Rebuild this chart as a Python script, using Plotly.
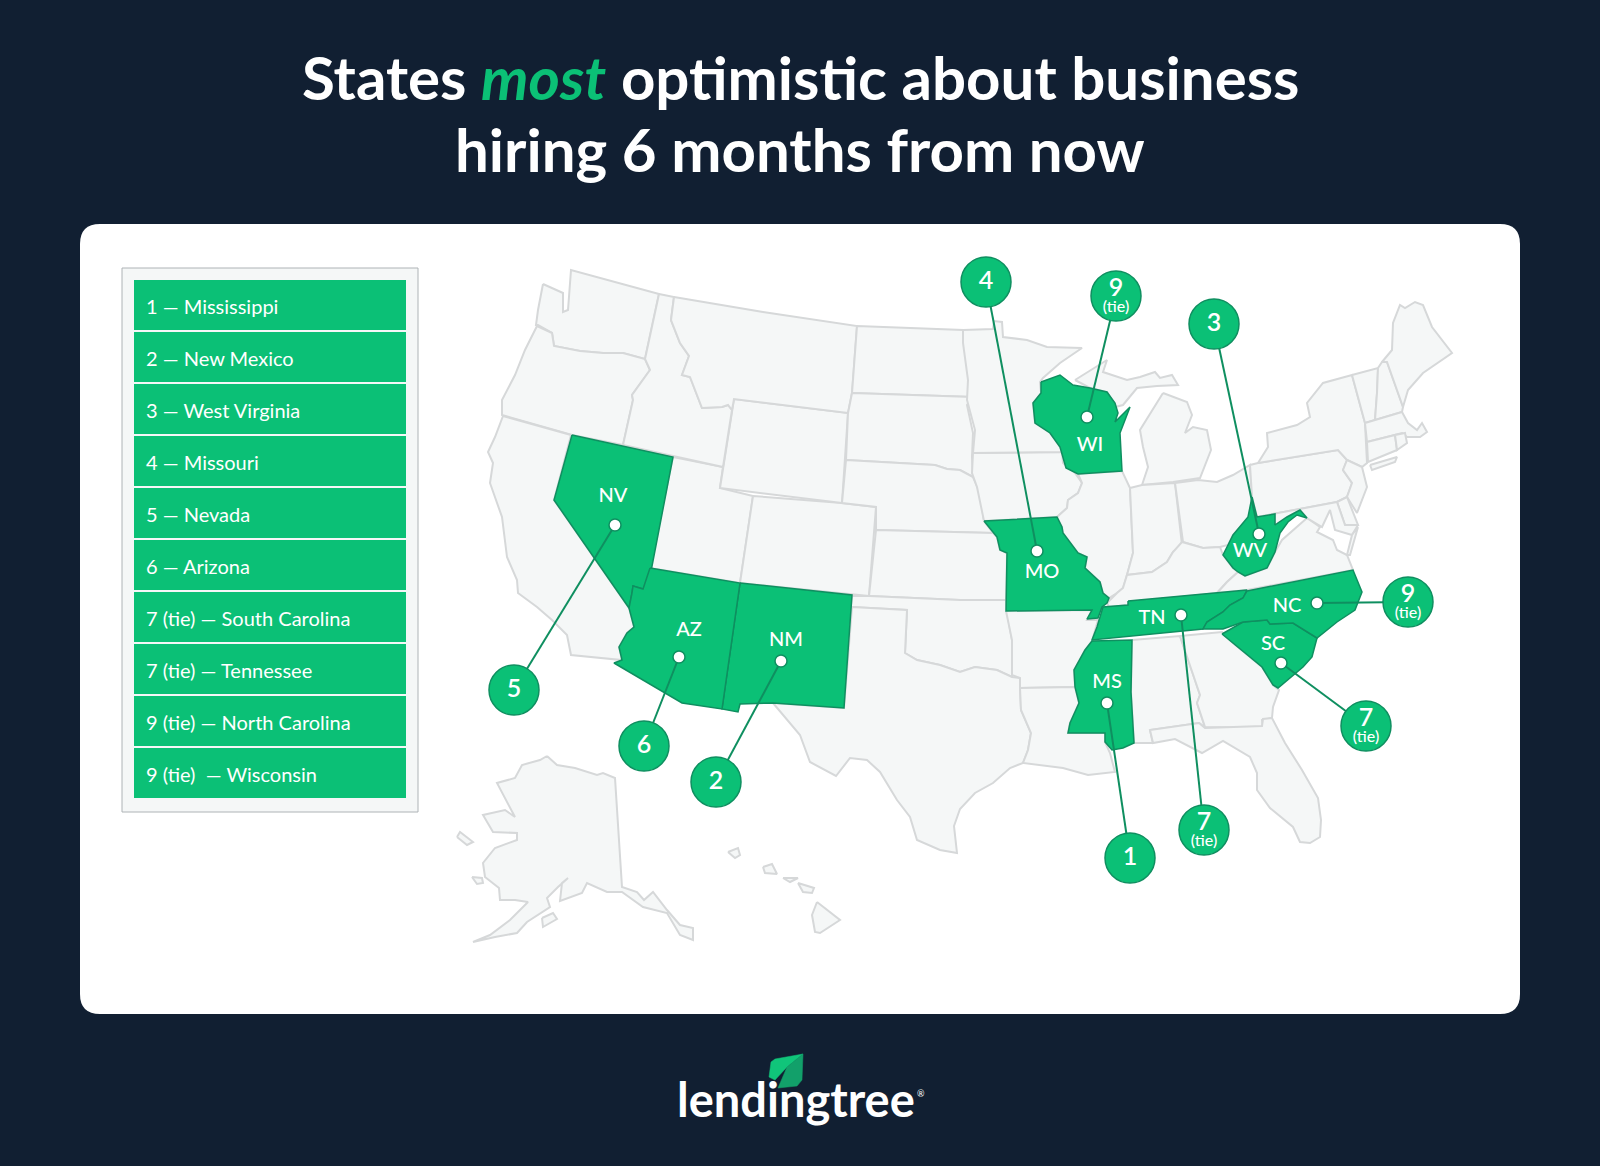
import plotly.graph_objects as go

# colours
navy = '#111f32'
green = '#0bc076'
dark_green = '#0f8f60'
grey_fill = '#f5f7f7'
grey_line = '#d6d8d9'

# legend
legend_labels = ['1 — Mississippi', '2 — New Mexico', '3 — West Virginia', '4 — Missouri', '5 — Nevada',
                 '6 — Arizona', '7 (tie) — South Carolina', '7 (tie) — Tennessee', '9 (tie) — North Carolina',
                 '9 (tie)\u00a0 — Wisconsin']

# callouts: state code, rank, tie, label pos, dot pos, circle pos
codes = ['MS', 'NM', 'WV', 'MO', 'NV', 'AZ', 'SC', 'TN', 'NC', 'WI']
ranks = ['1', '2', '3', '4', '5', '6', '7', '7', '9', '9']
ties = [False, False, False, False, False, False, True, True, True, True]
label_x = [1107, 786, 1250, 1042, 613, 689, 1273, 1152, 1287, 1090]
label_y = [683, 641, 552, 573, 497, 631, 645, 619, 607, 446]
dot_x = [1107, 781, 1259, 1037, 615, 679, 1281, 1181, 1317, 1087]
dot_y = [703, 661, 534, 551, 525, 657, 663, 615, 603, 417]
circle_x = [1130, 716, 1214, 986, 514, 644, 1366, 1204, 1408, 1116]
circle_y = [858, 782, 324, 282, 690, 746, 726, 830, 602, 296]

# state outlines (image pixels)
WA = [(543,284),(563,293),(563,312),(568,310),(571,270),(659,294),(645,359),(623,353),(603,353),(580,351),(554,346),(552,333),(538,325),(536,325),(538,310)]
OR = [(537,326),(552,333),(554,346),(580,351),(603,353),(623,353),(645,359),(650,370),(632,395),(633,400),(623,445),(572,435),(502,415),(502,400),(515,375),(525,350)]
CA = [(503,416),(571,435),(554,500),(629,608),(634,627),(627,633),(619,647),(622,660),(571,655),(567,635),(552,620),(537,607),(518,593),(517,580),(507,557),(502,517),(490,483),(493,463),(488,452),(495,437)]
NV = [(572,435),(673,457),(648,587),(643,589),(633,586),(632,593),(629,608),(554,500)]
AZ = [(650,568),(740,583),(722,709),(682,703),(614,663),(622,660),(619,647),(627,633),(634,627),(629,608),(632,593),(633,586),(643,589)]
NM = [(740,583),(852,595),(844,708),(773,703),(740,704),(738,712),(722,709)]
UT = [(673,457),(723,467),(720,488),(753,496),(740,583),(650,568)]
CO = [(753,496),(842,503),(876,507),(869,596),(740,583)]
WY = [(734,399),(848,413),(842,503),(720,488)]
ID = [(659,294),(674,297),(671,320),(680,343),(689,356),(682,375),(690,377),(702,408),(722,407),(728,405),(732,410),(723,467),(623,445),(633,400),(632,395),(650,370),(645,359)]
MT = [(674,297),(763,312),(857,326),(852,393),(848,413),(734,399),(732,410),(728,405),(722,407),(702,408),(690,377),(682,375),(689,356),(680,343),(671,320)]
ND = [(857,326),(963,330),(967,357),(973,397),(852,393)]
SD = [(852,393),(973,397),(967,405),(973,433),(972,457),(973,477),(960,470),(947,469),(935,465),(846,460),(848,413)]
NE = [(846,460),(935,465),(947,469),(960,470),(973,477),(980,493),(984,521),(993,533),(876,530),(876,507),(842,503)]
KS = [(876,530),(993,533),(997,537),(1000,550),(1007,553),(1006,600),(960,600),(869,596)]
OK = [(852,596),(869,596),(960,600),(1006,600),(1007,612),(1012,640),(1012,677),(997,670),(975,667),(960,672),(940,665),(917,660),(905,653),(907,610),(851,607)]
TX = [(852,607),(907,610),(905,653),(917,660),(940,665),(960,672),(975,667),(997,670),(1012,677),(1020,678),(1020,688),(1021,710),(1031,733),(1028,750),(1023,763),(1010,768),(993,783),(975,793),(960,809),(954,826),(957,853),(940,850),(917,840),(910,817),(897,800),(880,772),(867,760),(850,758),(836,776),(810,762),(800,735),(773,703),(844,708)]
MO = [(984,521),(1057,517),(1062,527),(1063,533),(1078,553),(1087,557),(1085,568),(1100,582),(1103,593),(1109,598),(1107,603),(1102,607),(1098,618),(1087,619),(1092,610),(1006,611),(1007,553),(1000,550),(997,537)]
IA = [(973,453),(1062,452),(1063,463),(1075,473),(1082,483),(1078,493),(1068,500),(1067,508),(1057,517),(984,521),(977,487),(972,473)]
MN = [(963,330),(993,329),(994,321),(1002,322),(1003,337),(1027,340),(1047,347),(1082,348),(1060,363),(1043,378),(1040,382),(1041,393),(1033,403),(1035,423),(1050,433),(1060,447),(1062,452),(973,453),(975,430),(967,400),(968,380),(963,343)]
WI = [(1041,382),(1060,375),(1073,385),(1090,388),(1107,392),(1115,403),(1118,413),(1115,422),(1130,407),(1120,433),(1122,471),(1078,474),(1066,468),(1062,452),(1060,447),(1050,433),(1035,423),(1033,403),(1041,393)]
MI_UP = [(1075,380),(1107,360),(1103,372),(1127,380),(1140,377),(1155,372),(1160,378),(1172,375),(1178,385),(1157,386),(1137,388),(1123,405),(1115,407),(1107,392),(1090,388)]
MI_LP = [(1163,393),(1187,402),(1192,415),(1185,433),(1193,427),(1207,430),(1211,450),(1200,478),(1173,482),(1142,485),(1148,467),(1143,447),(1140,430),(1152,410)]
IL = [(1078,474),(1122,471),(1130,488),(1133,553),(1127,575),(1123,588),(1117,593),(1109,598),(1103,593),(1100,582),(1085,568),(1087,557),(1078,553),(1063,533),(1062,527),(1057,517),(1067,508),(1068,500),(1078,493),(1082,483)]
IN = [(1130,488),(1142,485),(1175,483),(1182,545),(1173,552),(1167,562),(1152,572),(1127,575),(1133,553)]
OH = [(1175,483),(1198,480),(1217,482),(1233,475),(1250,465),(1252,497),(1250,517),(1233,535),(1228,545),(1220,547),(1203,548),(1183,542)]
KY = [(1117,593),(1123,588),(1127,575),(1152,572),(1167,562),(1173,552),(1182,542),(1203,548),(1220,547),(1223,555),(1233,568),(1238,572),(1227,582),(1217,593),(1130,602),(1128,605),(1109,607),(1107,603)]
TN = [(1128,601),(1247,590),(1243,598),(1230,605),(1223,612),(1207,622),(1203,629),(1092,640),(1097,627),(1103,607),(1128,605)]
NC = [(1247,591),(1353,570),(1362,592),(1355,610),(1337,622),(1317,638),(1293,623),(1270,624),(1267,620),(1243,622),(1223,629),(1203,629),(1207,622),(1223,612),(1230,605),(1243,598)]
SC = [(1222,634),(1243,622),(1267,620),(1270,624),(1293,623),(1317,638),(1312,657),(1303,667),(1278,688),(1273,685),(1262,667),(1250,657),(1233,643)]
VA = [(1217,593),(1227,582),(1238,572),(1245,576),(1267,568),(1275,552),(1282,540),(1293,530),(1307,518),(1320,527),(1317,532),(1333,540),(1337,550),(1347,555),(1353,570),(1247,590)]
WV = [(1252,497),(1257,517),(1275,514),(1275,525),(1287,517),(1300,510),(1307,518),(1297,515),(1288,522),(1280,533),(1275,552),(1267,568),(1245,576),(1238,572),(1233,568),(1223,555),(1228,545),(1233,535),(1248,517)]
PA = [(1250,465),(1258,463),(1338,450),(1347,460),(1343,470),(1352,483),(1347,497),(1337,502),(1257,517),(1252,497)]
NY = [(1258,463),(1268,447),(1267,433),(1297,425),(1310,417),(1307,403),(1323,383),(1352,375),(1365,423),(1367,463),(1362,467),(1347,460),(1338,450)]
LONG_ISLAND = [(1370,465),(1397,457),(1395,462),(1372,470)]
NJ = [(1347,460),(1362,467),(1367,487),(1357,513),(1347,497),(1352,483),(1343,470)]
DE = [(1337,502),(1347,497),(1358,525),(1345,525)]
MD = [(1257,517),(1337,502),(1345,525),(1358,525),(1352,535),(1335,530),(1330,510),(1322,527),(1307,518),(1300,510),(1287,517),(1275,525),(1275,514)]
VA_SHORE = [(1358,527),(1350,555),(1347,555),(1352,535)]
VT = [(1352,375),(1378,368),(1377,393),(1375,420),(1365,423)]
NH = [(1378,368),(1382,362),(1387,362),(1403,407),(1402,412),(1375,420),(1377,393)]
ME = [(1382,362),(1392,350),(1393,323),(1400,305),(1405,308),(1415,302),(1423,305),(1432,327),(1452,353),(1423,373),(1408,390),(1403,407),(1387,362)]
MA = [(1365,423),(1402,412),(1408,423),(1417,430),(1422,423),(1427,432),(1420,437),(1407,437),(1402,433),(1367,442)]
CT = [(1367,442),(1395,435),(1397,450),(1368,462)]
RI = [(1395,435),(1405,433),(1407,443),(1397,450)]
MS = [(1092,641),(1132,640),(1131,692),(1134,743),(1123,748),(1112,750),(1105,742),(1105,733),(1068,733),(1070,723),(1079,703),(1075,687),(1074,670),(1085,650)]
AL = [(1132,640),(1180,636),(1200,695),(1197,703),(1205,727),(1199,723),(1150,730),(1153,743),(1134,743),(1131,692)]
GA = [(1180,636),(1222,632),(1233,643),(1250,657),(1262,667),(1273,685),(1279,690),(1273,707),(1272,718),(1262,720),(1263,728),(1205,727),(1197,703),(1200,695)]
FL = [(1150,730),(1199,723),(1205,728),(1262,726),(1263,719),(1272,718),(1285,743),(1302,770),(1318,798),(1321,820),(1320,837),(1310,843),(1300,842),(1293,827),(1270,808),(1257,790),(1257,773),(1250,757),(1223,741),(1202,753),(1175,739),(1153,743)]
AR = [(1006,611),(1092,610),(1087,620),(1098,620),(1092,641),(1085,650),(1074,670),(1075,687),(1020,688),(1020,678),(1012,675),(1012,640)]
LA = [(1020,688),(1075,687),(1079,703),(1070,723),(1068,733),(1105,733),(1105,742),(1110,753),(1115,772),(1088,775),(1063,768),(1023,763),(1028,750),(1031,733),(1021,710)]
AK = [(547,756),(557,765),(575,768),(597,775),(603,773),(615,778),(622,887),(637,892),(644,900),(653,892),(667,910),(680,925),(693,928),(693,940),(680,935),(667,913),(643,907),(622,892),(607,892),(587,883),(582,893),(560,901),(562,883),(568,878),(558,887),(547,898),(550,907),(527,922),(517,933),(495,937),(473,942),(490,935),(510,920),(528,902),(515,900),(500,900),(499,888),(485,877),(483,863),(495,848),(517,840),(517,833),(493,832),(483,815),(505,810),(515,817),(497,783),(515,778),(522,765),(540,760)]
AK_ST_LAWRENCE = [(457,837),(460,832),(473,842),(467,845)]
AK_NUNIVAK = [(472,877),(482,878),(483,883),(477,884)]
AK_KODIAK = [(542,918),(553,913),(557,919),(543,927)]
HI_KAUAI = [(728,852),(738,848),(740,855),(735,858)]
HI_OAHU = [(763,867),(772,864),(777,874),(765,873)]
HI_MOLOKAI = [(783,878),(798,878),(790,882)]
HI_MAUI = [(798,883),(805,885),(814,888),(812,893),(803,892)]
HI_BIG = [(817,902),(840,920),(820,933),(815,932),(812,915)]

grey_states = [WA, OR, CA, UT, CO, WY, ID, MT, ND, SD, NE, KS, OK, TX, IA, MN, MI_UP, MI_LP, IL, IN, OH, KY, VA,
               PA, NY, LONG_ISLAND, NJ, DE, MD, VA_SHORE, VT, NH, ME, MA, CT, RI, AL, GA, FL, AR, LA, AK,
               AK_ST_LAWRENCE, AK_NUNIVAK, AK_KODIAK, HI_KAUAI, HI_OAHU, HI_MOLOKAI, HI_MAUI, HI_BIG]
green_states = [MS, NM, WV, MO, NV, AZ, SC, TN, NC, WI]

# logo leaf
LEAF_TOP = [(769,1077),(771,1062),(775,1059),(803,1054),(787,1067),(775,1080)]
LEAF_BOTTOM = [(803,1054),(802,1080),(797,1086),(778,1088),(787,1067)]


def poly(points, fill, line, width):
    xs = [p[0] for p in points] + [points[0][0]]
    ys = [p[1] for p in points] + [points[0][1]]
    return go.Scatter(x=xs, y=ys, mode='lines', fill='toself', fillcolor=fill, hoverinfo='skip',
                      line=dict(color=line, width=width), showlegend=False)


fig = go.Figure()

for st in grey_states:
    fig.add_trace(poly(st, grey_fill, grey_line, 2))
for st in green_states:
    fig.add_trace(poly(st, green, dark_green, 1.5))

# leader lines
for i in range(len(codes)):
    fig.add_trace(go.Scatter(x=[dot_x[i], circle_x[i]], y=[dot_y[i], circle_y[i]], mode='lines',
                             line=dict(color=dark_green, width=2), hoverinfo='skip', showlegend=False))

fig.add_trace(go.Scatter(x=dot_x, y=dot_y, mode='markers', hoverinfo='skip', showlegend=False,
                         marker=dict(size=12, color='white', line=dict(color=dark_green, width=1.5))))
fig.add_trace(go.Scatter(x=circle_x, y=circle_y, mode='markers', hoverinfo='skip', showlegend=False,
                         marker=dict(size=50, color=green, line=dict(color=dark_green, width=1.5))))

# state codes
fig.add_trace(go.Scatter(x=label_x, y=label_y, mode='text', text=codes, hoverinfo='skip', showlegend=False,
                         textfont=dict(family='Lato', size=20, color='white', weight=500)))

# rank numbers in the circles, ties get a smaller (tie) under the number
rank_y = [y - 6 if t else y + 1 for y, t in zip(circle_y, ties)]
fig.add_trace(go.Scatter(x=circle_x, y=rank_y, mode='text', text=ranks, hoverinfo='skip', showlegend=False,
                         textfont=dict(family='Lato', size=25, color='white', weight=600)))
tie_x = [x for x, t in zip(circle_x, ties) if t]
tie_y = [y + 12 for y, t in zip(circle_y, ties) if t]
fig.add_trace(go.Scatter(x=tie_x, y=tie_y, mode='text', text=['(tie)'] * len(tie_x), hoverinfo='skip', showlegend=False,
                         textfont=dict(family='Lato', size=16, color='white', weight=500)))

# logo
fig.add_trace(poly(LEAF_TOP, '#10c57a', '#10c57a', 0.5))
fig.add_trace(poly(LEAF_BOTTOM, '#12a06a', '#12a06a', 0.5))

shapes = [
    # white panel with rounded corners
    dict(type='path', xref='x', yref='y', layer='below', line_width=0, fillcolor='white',
         path='M 100 224 L 1500 224 Q 1520 224 1520 244 L 1520 994 Q 1520 1014 1500 1014 L 100 1014 '
              'Q 80 1014 80 994 L 80 244 Q 80 224 100 224 Z'),
    dict(type='rect', xref='x', yref='y', layer='below', x0=122, x1=418, y0=268, y1=812,
         fillcolor=grey_fill, line=dict(color='#aeb3b6', width=1)),
]
annotations = []
for i, label in enumerate(legend_labels):
    top = 280 + i * 52
    shapes.append(dict(type='rect', xref='x', yref='y', layer='below', x0=134, x1=406, y0=top, y1=top + 50,
                       fillcolor=green, line_width=0))
    annotations.append(dict(x=144, y=top + 26, text=label, showarrow=False, xanchor='left', yanchor='middle',
                            font=dict(family='Lato', size=20, color='white')))

annotations.append(dict(x=800, y=77, showarrow=False, xanchor='center', yanchor='middle',
                        text='States <i><span style="color:#0bc076">most</span></i> optimistic about business',
                        font=dict(family='Lato', size=60, color='white', weight=700)))
annotations.append(dict(x=800, y=149, showarrow=False, xanchor='center', yanchor='middle',
                        text='hiring 6 months from now',
                        font=dict(family='Lato', size=60, color='white', weight=700)))
annotations.append(dict(x=796, y=1099, showarrow=False, xanchor='center', yanchor='middle',
                        text='lendingtree', font=dict(family='Lato', size=47, color='white', weight=700)))
annotations.append(dict(x=921, y=1093, showarrow=False, xanchor='center', yanchor='middle',
                        text='®', font=dict(family='Lato', size=9, color='white')))

fig.update_layout(width=1600, height=1166, margin=dict(l=0, r=0, t=0, b=0), autosize=False,
                  paper_bgcolor=navy, plot_bgcolor=navy, shapes=shapes, annotations=annotations,
                  xaxis=dict(visible=False, range=[0, 1600], fixedrange=True),
                  yaxis=dict(visible=False, range=[1166, 0], fixedrange=True))

fig.write_html("out.html", config=dict(displayModeBar=False),
               post_script="document.body.style.margin='0';document.body.style.background='#111f32';")
